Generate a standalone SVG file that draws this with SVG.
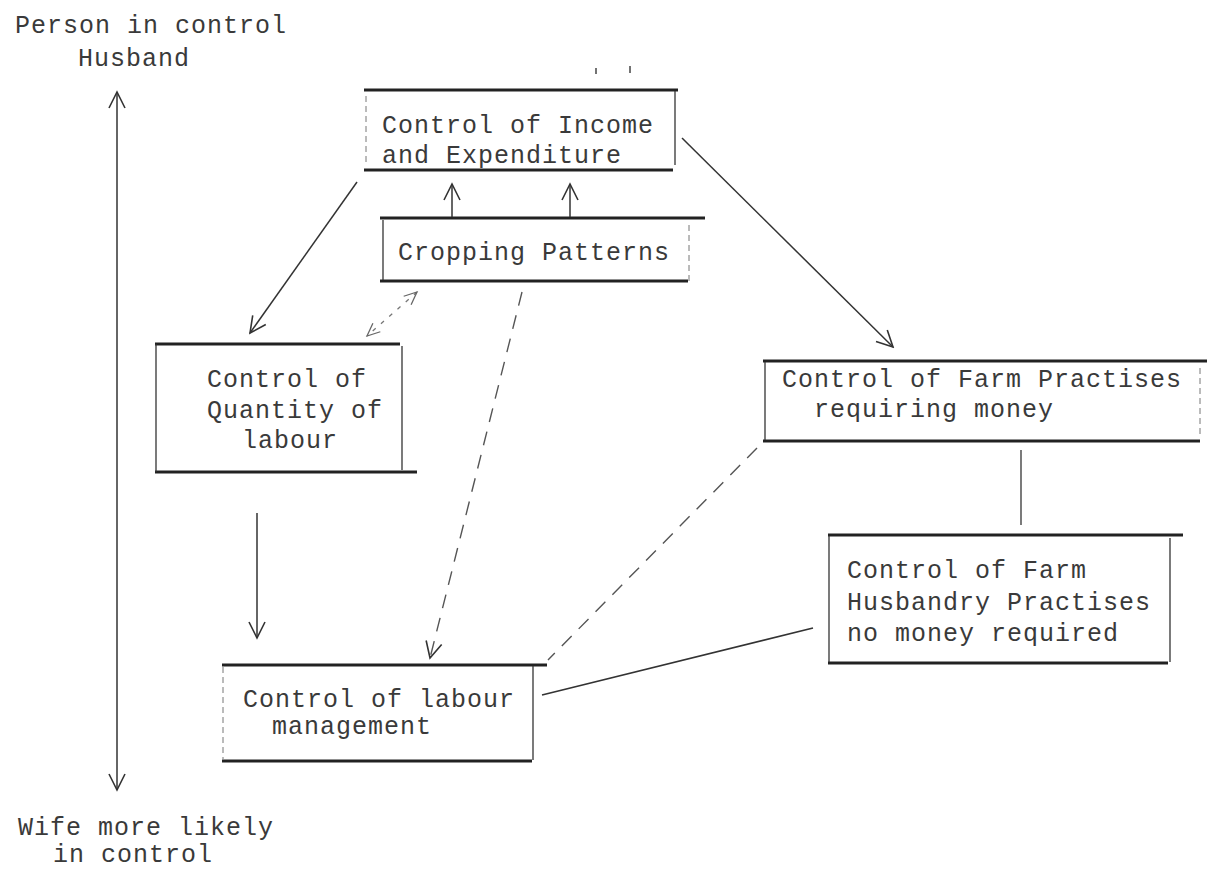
<svg xmlns="http://www.w3.org/2000/svg" width="1207" height="877" viewBox="0 0 1207 877">
<defs>
<marker id="ah" viewBox="0 0 20 20" refX="18" refY="10" markerWidth="20" markerHeight="20" markerUnits="userSpaceOnUse" orient="auto">
<path d="M2,2 L18,10 L2,18" fill="none" stroke="#333" stroke-width="1.6"/>
</marker>
<marker id="ahs" viewBox="0 0 20 20" refX="18" refY="10" markerWidth="20" markerHeight="20" markerUnits="userSpaceOnUse" orient="auto-start-reverse">
<path d="M2,2 L18,10 L2,18" fill="none" stroke="#333" stroke-width="1.6"/>
</marker>
<marker id="ahd" viewBox="0 0 20 20" refX="18" refY="10" markerWidth="16" markerHeight="16" markerUnits="userSpaceOnUse" orient="auto-start-reverse">
<path d="M2,3 L18,10 L2,17" fill="none" stroke="#666" stroke-width="1.6"/>
</marker>
</defs>
<style>
text{font-family:"Liberation Mono","DejaVu Sans Mono",monospace;font-size:25px;letter-spacing:1px;fill:#3a3a3a}
.tb{stroke:#222;stroke-width:3;fill:none}
.sd{stroke:#333;stroke-width:1.3;fill:none}
.fd{stroke:#777;stroke-width:1;stroke-dasharray:6 4;fill:none}
.c{stroke:#333;stroke-width:1.5;fill:none}
.cd{stroke:#555;stroke-width:1.4;fill:none;stroke-dasharray:14 10}
.cdot{stroke:#777;stroke-width:1.3;fill:none;stroke-dasharray:4 7}
</style>
<rect width="1207" height="877" fill="#fff"/>

<g id="axis">
<text x="15" y="33">Person in control</text>
<text x="78" y="66">Husband</text>
<line x1="117" y1="92" x2="117" y2="790" class="c" marker-start="url(#ahs)" marker-end="url(#ahs)"/>
<text x="18" y="835">Wife more likely</text>
<text x="53" y="862">in control</text>
</g>

<g id="node-income">
<line x1="364" y1="90" x2="678" y2="90" class="tb"/>
<line x1="364" y1="170" x2="673" y2="170" class="tb"/>
<line x1="675" y1="91" x2="675" y2="165" class="sd"/>
<line x1="366" y1="96" x2="366" y2="165" class="fd"/>
<text x="382" y="133">Control of Income</text>
<text x="382" y="163">and Expenditure</text>
</g>

<g id="node-cropping">
<line x1="380" y1="218" x2="705" y2="218" class="tb"/>
<line x1="380" y1="281" x2="688" y2="281" class="tb"/>
<line x1="383" y1="220" x2="383" y2="280" class="sd"/>
<line x1="689" y1="225" x2="689" y2="285" class="fd"/>
<text x="398" y="260">Cropping Patterns</text>
</g>

<g id="node-quantity">
<line x1="155" y1="344" x2="400" y2="344" class="tb"/>
<line x1="155" y1="472" x2="417" y2="472" class="tb"/>
<line x1="156" y1="344" x2="156" y2="472" class="sd"/>
<line x1="402" y1="346" x2="402" y2="470" class="sd"/>
<text x="207" y="387">Control of</text>
<text x="207" y="418">Quantity of</text>
<text x="242" y="448">labour</text>
</g>

<g id="node-farm-money">
<line x1="763" y1="361" x2="1207" y2="361" class="tb"/>
<line x1="763" y1="441" x2="1200" y2="441" class="tb"/>
<line x1="765" y1="362" x2="765" y2="440" class="sd"/>
<line x1="1200" y1="368" x2="1200" y2="438" class="fd"/>
<text x="782" y="387">Control of Farm Practises</text>
<text x="814" y="417">requiring money</text>
</g>

<g id="node-husbandry">
<line x1="828" y1="535" x2="1183" y2="535" class="tb"/>
<line x1="828" y1="663" x2="1168" y2="663" class="tb"/>
<line x1="829" y1="536" x2="829" y2="662" class="sd"/>
<line x1="1170" y1="538" x2="1170" y2="662" class="sd"/>
<text x="847" y="578">Control of Farm</text>
<text x="847" y="610">Husbandry Practises</text>
<text x="847" y="641">no money required</text>
</g>

<g id="node-labour-mgmt">
<line x1="222" y1="665" x2="547" y2="665" class="tb"/>
<line x1="222" y1="761" x2="532" y2="761" class="tb"/>
<line x1="223" y1="667" x2="223" y2="759" class="fd"/>
<line x1="533" y1="666" x2="533" y2="760" class="sd"/>
<text x="243" y="707">Control of labour</text>
<text x="272" y="734">management</text>
</g>

<g id="connectors">
<line x1="357" y1="182" x2="250" y2="333" class="c" marker-end="url(#ah)"/>
<line x1="452" y1="217" x2="452" y2="184" class="c" marker-end="url(#ah)"/>
<line x1="570" y1="217" x2="570" y2="184" class="c" marker-end="url(#ah)"/>
<line x1="417" y1="292" x2="367" y2="336" class="cdot" marker-start="url(#ahd)" marker-end="url(#ahd)"/>
<line x1="682" y1="138" x2="893" y2="347" class="c" marker-end="url(#ah)"/>
<line x1="257" y1="513" x2="257" y2="638" class="c" marker-end="url(#ah)"/>
<line x1="522" y1="292" x2="430" y2="658" class="cd" marker-end="url(#ah)"/>
<line x1="757" y1="448" x2="548" y2="660" class="cd"/>
<line x1="1021" y1="450" x2="1021" y2="525" class="sd"/>
<line x1="542" y1="695" x2="813" y2="628" class="c"/>
<line x1="596" y1="68" x2="596" y2="74" stroke="#444" stroke-width="1.5"/>
<line x1="630" y1="66" x2="630" y2="73" stroke="#444" stroke-width="1.5"/>
</g>
</svg>
